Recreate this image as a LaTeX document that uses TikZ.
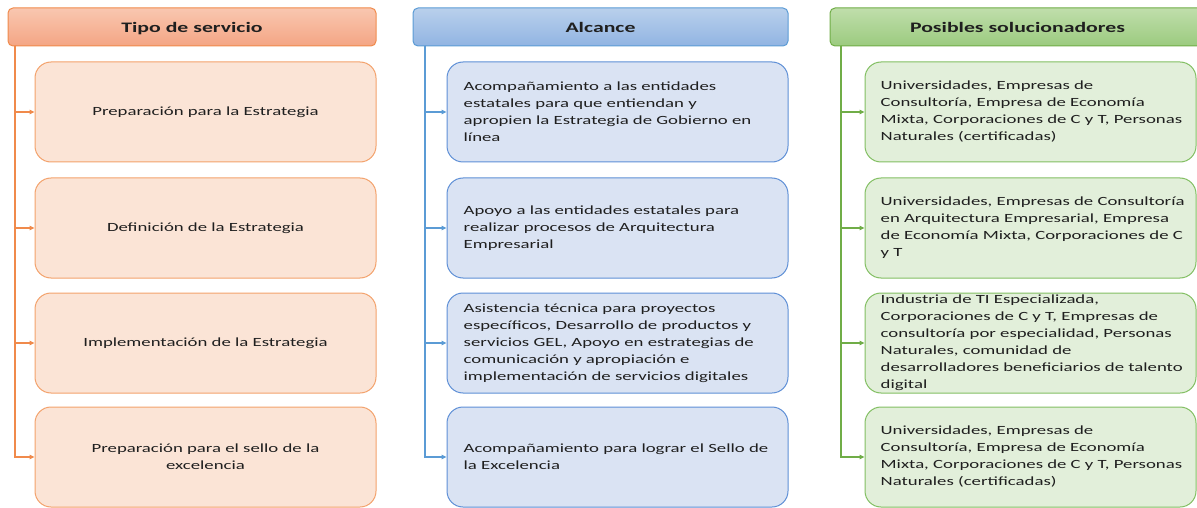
\documentclass[tikz,border=0pt]{standalone}
\usepackage{fontspec}
\setmainfont[FakeStretch=1.5]{Carlito}
\usetikzlibrary{arrows.meta,calc}
\definecolor{oTop}{HTML}{F9C7B0}
\definecolor{oBot}{HTML}{F4A584}
\definecolor{oLine}{HTML}{F08A4B}
\definecolor{oFill}{HTML}{FBE4D6}
\definecolor{oEdge}{HTML}{F3A26C}
\definecolor{bTop}{HTML}{B9D0EC}
\definecolor{bBot}{HTML}{91B4E2}
\definecolor{bLine}{HTML}{5B9BD5}
\definecolor{bFill}{HTML}{DAE3F3}
\definecolor{bEdge}{HTML}{5E8FD6}
\definecolor{gTop}{HTML}{C0DEAB}
\definecolor{gBot}{HTML}{9BCB7F}
\definecolor{gLine}{HTML}{70AD47}
\definecolor{gFill}{HTML}{E2EFDA}
\definecolor{gEdge}{HTML}{82BF62}
\definecolor{txt}{HTML}{1F1F1F}
\begin{document}
\begin{tikzpicture}[x=1pt,y=-1pt,
  hdr/.style={rounded corners=5pt, line width=1pt, minimum height=38pt, inner sep=0pt,
    text height=11pt, text depth=0pt,
    font=\fontsize{14.5}{17}\selectfont\bfseries, text=txt},
  box/.style={rounded corners=16pt, line width=1pt, minimum height=100pt, inner sep=0pt,
    font=\fontsize{12.5}{17}\selectfont, text=txt, align=center},
  obox/.style={box, fill=oFill, draw=oEdge, minimum width=341pt},
  bbox/.style={box, fill=bFill, draw=bEdge, minimum width=341pt},
  gbox/.style={box, fill=gFill, draw=gEdge, minimum width=331pt},
  ltxt/.style={anchor=west, inner sep=0pt, align=left, text=txt, font=\fontsize{12.5}{17}\selectfont},
  conn/.style={line width=1.2pt, -{Triangle[length=5pt,width=4.5pt]}},
]
\useasboundingbox (0,0) rectangle (1197,508);

% headers
\node[hdr, top color=oTop, bottom color=oBot, draw=oLine, minimum width=368pt] (tipo) at (192,27) {Tipo de servicio};
\node[hdr, top color=bTop, bottom color=bBot, draw=bLine, minimum width=375pt] (alc) at (600.5,27) {Alcance};
\node[hdr, top color=gTop, bottom color=gBot, draw=gLine, minimum width=375pt] (pos) at (1017.5,27) {Posibles solucionadores};

% trunk coordinates
\coordinate (ot) at (15,46);
\coordinate (bt) at (425,46);
\coordinate (gt) at (841,46);

% orange column
\node[obox] (t1) at (205.5,112) {Preparación para la Estrategia};
\node[obox] (t2) at (205.5,228) {Definición de la Estrategia};
\node[obox] (t3) at (205.5,343) {Implementación de la Estrategia};
\node[obox] (t4) at (205.5,457) {Preparación para el sello de la\\excelencia};

% blue column
\node[bbox] (a1) at (617.5,112) {};
\node[bbox] (a2) at (617.5,228) {};
\node[bbox] (a3) at (617.5,343) {};
\node[bbox] (a4) at (617.5,457) {};
\node[ltxt] (a1t) at ($(a1.west)+(17,0)$) {Acompañamiento a las entidades\\estatales para que entiendan y\\apropien la Estrategia de Gobierno en\\línea};
\node[ltxt] (a2t) at ($(a2.west)+(17,0)$) {Apoyo a las entidades estatales para\\realizar procesos de Arquitectura\\Empresarial};
\node[ltxt] (a3t) at ($(a3.west)+(17,0)$) {Asistencia técnica para proyectos\\específicos, Desarrollo de productos y\\servicios GEL, Apoyo en estrategias de\\comunicación y apropiación e\\implementación de servicios digitales};
\node[ltxt] (a4t) at ($(a4.west)+(17,0)$) {Acompañamiento para lograr el Sello de\\la Excelencia};

% green column
\node[gbox] (p1) at (1030.5,112) {};
\node[gbox] (p2) at (1030.5,228) {};
\node[gbox] (p3) at (1030.5,343) {};
\node[gbox] (p4) at (1030.5,457) {};
\node[ltxt] (p1t) at ($(p1.west)+(16,0)$) {Universidades, Empresas de\\Consultoría, Empresa de Economía\\Mixta, Corporaciones de C y T, Personas\\Naturales (certificadas)};
\node[ltxt] (p2t) at ($(p2.west)+(16,0)$) {Universidades, Empresas de Consultoría\\en Arquitectura Empresarial, Empresa\\de Economía Mixta, Corporaciones de C\\y T};
\node[ltxt] (p3t) at ($(p3.west)+(16,0)$) {Industria de TI Especializada,\\Corporaciones de C y T, Empresas de\\consultoría por especialidad, Personas\\Naturales, comunidad de\\desarrolladores beneficiarios de talento\\digital};
\node[ltxt] (p4t) at ($(p4.west)+(16,0)$) {Universidades, Empresas de\\Consultoría, Empresa de Economía\\Mixta, Corporaciones de C y T, Personas\\Naturales (certificadas)};

% connectors
\foreach \n in {t1,t2,t3,t4} \draw[conn, draw=oLine] (ot) |- (\n.west);
\foreach \n in {a1,a2,a3,a4} \draw[conn, draw=bLine] (bt) |- (\n.west);
\foreach \n in {p1,p2,p3,p4} \draw[conn, draw=gLine] (gt) |- (\n.west);
\end{tikzpicture}
\end{document}
